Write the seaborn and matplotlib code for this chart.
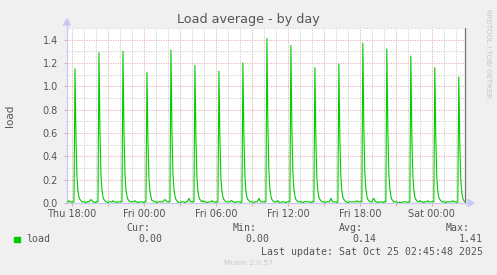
import matplotlib
matplotlib.use("Agg")
import matplotlib.pyplot as plt
import matplotlib.dates as mdates
from matplotlib.ticker import MultipleLocator, FuncFormatter, FixedLocator
from matplotlib.patches import Polygon, Rectangle
import pandas as pd
import seaborn as sns

# ---------------- data (5-minute samples, from Thu 17:35) ----------------
start_time = "2025-10-23 17:35"
end_time = "2025-10-25 02:46"
sample_step = "5min"

pre_peak = [0.01, 0.01, 0.02, 0.01, 0.01, 0.00, 0.01, 0.01]
cycle_rows = [
    [1.15, 0.55, 0.22, 0.10, 0.05, 0.03, 0.02, 0.01, 0.01, 0.01, 0.01, 0.00, 0.01, 0.01, 0.01, 0.02, 0.03, 0.02, 0.01, 0.01, 0.00, 0.01, 0.01, 0.01],
    [1.29, 0.60, 0.24, 0.11, 0.05, 0.03, 0.02, 0.01, 0.01, 0.00, 0.01, 0.01, 0.01, 0.01, 0.02, 0.01, 0.01, 0.01, 0.00, 0.01, 0.01, 0.01, 0.01, 0.01],
    [1.30, 0.61, 0.25, 0.11, 0.06, 0.03, 0.02, 0.01, 0.01, 0.01, 0.01, 0.01, 0.02, 0.01, 0.01, 0.00, 0.01, 0.01, 0.01, 0.01, 0.01, 0.00, 0.01, 0.01],
    [1.12, 0.52, 0.21, 0.10, 0.05, 0.02, 0.02, 0.01, 0.01, 0.01, 0.00, 0.01, 0.01, 0.01, 0.01, 0.01, 0.01, 0.02, 0.03, 0.02, 0.01, 0.01, 0.01, 0.01],
    [1.31, 0.62, 0.25, 0.12, 0.06, 0.03, 0.02, 0.01, 0.00, 0.00, 0.01, 0.01, 0.01, 0.01, 0.00, 0.01, 0.01, 0.02, 0.04, 0.02, 0.01, 0.01, 0.01, 0.01],
    [1.18, 0.56, 0.22, 0.10, 0.05, 0.03, 0.02, 0.01, 0.02, 0.01, 0.01, 0.01, 0.00, 0.01, 0.01, 0.01, 0.01, 0.02, 0.01, 0.01, 0.01, 0.00, 0.01, 0.01],
    [1.13, 0.53, 0.21, 0.10, 0.05, 0.03, 0.02, 0.01, 0.01, 0.01, 0.01, 0.01, 0.02, 0.02, 0.01, 0.01, 0.00, 0.01, 0.01, 0.01, 0.01, 0.01, 0.00, 0.01],
    [1.20, 0.57, 0.23, 0.10, 0.05, 0.03, 0.02, 0.01, 0.01, 0.01, 0.01, 0.00, 0.01, 0.01, 0.01, 0.02, 0.04, 0.02, 0.01, 0.01, 0.01, 0.01, 0.01, 0.01],
    [1.41, 0.66, 0.27, 0.12, 0.06, 0.03, 0.02, 0.01, 0.01, 0.01, 0.01, 0.02, 0.01, 0.00, 0.00, 0.01, 0.01, 0.01, 0.01, 0.00, 0.01, 0.01, 0.01, 0.01],
    [1.35, 0.63, 0.26, 0.12, 0.06, 0.03, 0.02, 0.01, 0.01, 0.01, 0.01, 0.01, 0.00, 0.01, 0.01, 0.015, 0.01, 0.01, 0.01, 0.01, 0.00, 0.01, 0.01, 0.01],
    [1.16, 0.55, 0.22, 0.10, 0.05, 0.03, 0.02, 0.01, 0.01, 0.01, 0.00, 0.01, 0.01, 0.01, 0.01, 0.02, 0.04, 0.02, 0.01, 0.01, 0.01, 0.01, 0.00, 0.01],
    [1.19, 0.56, 0.23, 0.10, 0.05, 0.03, 0.02, 0.01, 0.01, 0.00, 0.01, 0.01, 0.01, 0.01, 0.01, 0.01, 0.01, 0.01, 0.02, 0.01, 0.01, 0.01, 0.01, 0.01],
    [1.37, 0.64, 0.26, 0.12, 0.06, 0.03, 0.02, 0.01, 0.01, 0.01, 0.03, 0.04, 0.02, 0.01, 0.01, 0.00, 0.01, 0.01, 0.01, 0.01, 0.00, 0.01, 0.01, 0.01],
    [1.32, 0.62, 0.25, 0.12, 0.06, 0.03, 0.02, 0.01, 0.01, 0.01, 0.01, 0.00, 0.00, 0.01, 0.00, 0.00, 0.01, 0.01, 0.01, 0.01, 0.01, 0.00, 0.01, 0.01],
    [1.26, 0.59, 0.24, 0.11, 0.05, 0.03, 0.02, 0.01, 0.01, 0.02, 0.01, 0.01, 0.01, 0.00, 0.01, 0.01, 0.01, 0.02, 0.01, 0.01, 0.01, 0.01, 0.01, 0.01],
    [1.16, 0.55, 0.22, 0.10, 0.05, 0.03, 0.02, 0.01, 0.01, 0.01, 0.01, 0.00, 0.01, 0.01, 0.01, 0.01, 0.01, 0.01, 0.02, 0.01, 0.01, 0.01, 0.00, 0.01],
    [1.08, 0.50, 0.20, 0.09, 0.04, 0.02, 0.01],
]

series_name = "load"
stat_labels = ["Cur:", "Min:", "Avg:", "Max:"]
stat_values = ["0.00", "0.00", "0.14", "1.41"]
last_update = "Last update: Sat Oct 25 02:45:48 2025"
title = "Load average - by day"
ylabel = "load"
side_text = "RRDTOOL / TOBI OETIKER"
footer = "Munin 2.0.57"

load = list(pre_peak)
for row in cycle_rows:
    load.extend(row)
times = pd.date_range(start_time, periods=len(load), freq=sample_step)
df = pd.DataFrame({"time": times, "load": load})

# ---------------- figure ----------------
W, H = 497, 275
BG = "#F0F0F0"
TXT = "#555555"
GREEN = "#00CC00"
MAJ = "#E8A8A8"
MIN = "#CCCCCC"
AXC = "#C8C8F0"


def fx(x):
    return x / W


def fy(y):
    return 1 - y / H


fig = plt.figure(figsize=(W / 100, H / 100), dpi=100, facecolor=BG)
L, R, T, B = 67, 465, 28, 203
ax = fig.add_axes([fx(L), fy(B), (R - L) / W, (B - T) / H])
ax.set_facecolor("white")

sns.lineplot(data=df, x="time", y="load", ax=ax, color=GREEN, linewidth=0.8, zorder=3)

ax.set_xlim(pd.Timestamp(start_time), pd.Timestamp(end_time))
ax.set_ylim(0, 1.5)

# x ticks: major every 3h (labels every 6h), minor every hour
ax.xaxis.set_major_locator(mdates.HourLocator(byhour=range(0, 24, 3)))
ax.xaxis.set_minor_locator(mdates.HourLocator())


def xfmt(v, pos):
    d = mdates.num2date(v)
    if d.hour % 6 == 0:
        return d.strftime("%a %H:%M")
    return ""


ax.xaxis.set_major_formatter(FuncFormatter(xfmt))
ax.yaxis.set_major_locator(MultipleLocator(0.2))
ax.yaxis.set_minor_locator(MultipleLocator(0.1))
ax.yaxis.set_major_formatter(FuncFormatter(lambda v, p: f"{v:.1f}"))

dots = (0, (1, 1.3))
ax.grid(which="major", color=MAJ, linestyle=dots, linewidth=0.75)
ax.grid(which="minor", color=MIN, linestyle=dots, linewidth=0.75)
ax.set_axisbelow(True)

ax.tick_params(which="major", length=2, width=0.75, color=MAJ, labelsize=7,
               labelcolor=TXT, pad=2.5)
ax.tick_params(which="minor", length=0)
ax.tick_params(axis="y", pad=4.5)

ax.set_xlabel("")
ax.set_ylabel("")

for s in ["top"]:
    ax.spines[s].set_visible(False)
ax.spines["left"].set_color(AXC)
ax.spines["bottom"].set_color(AXC)
ax.spines["left"].set_linewidth(0.9)
ax.spines["bottom"].set_linewidth(0.9)
ax.spines["right"].set_color("#707070")
ax.spines["right"].set_linewidth(0.9)

# axis arrows
fig.add_artist(plt.Line2D([fx(L), fx(L)], [fy(T), fy(24)], color=AXC, lw=0.9))
fig.add_artist(Polygon([[fx(L), fy(19)], [fx(L - 3.5), fy(25)], [fx(L + 3.5), fy(25)]],
                       closed=True, color=AXC))
fig.add_artist(plt.Line2D([fx(R), fx(468)], [fy(B), fy(B)], color=AXC, lw=0.9))
fig.add_artist(Polygon([[fx(474), fy(B)], [fx(468), fy(B - 3.5)], [fx(468), fy(B + 3.5)]],
                       closed=True, color=AXC))

# titles
fig.text(fx(248), fy(19), title, ha="center", va="center", fontsize=9.2, color=TXT)
fig.text(fx(10), fy(115.5), ylabel, ha="center", va="center", rotation=90,
         fontsize=7.5, color=TXT)
fig.text(fx(488), fy(53), side_text, ha="center", va="center", rotation=270,
         fontsize=5, color="#C4C4C4")

# legend
mono = "DejaVu Sans Mono"
fig.add_artist(Rectangle((fx(14), fy(242)), 5.5 / W, 5.5 / H, color=GREEN))
fig.text(fx(26.5), fy(239.3), series_name, ha="left", va="center", family=mono,
         fontsize=7.1, color=TXT)
label_right = [150, 257, 363, 470]
value_right = [162.5, 269.5, 376, 482.5]
for lab, xr in zip(stat_labels, label_right):
    fig.text(fx(xr), fy(227.7), lab, ha="right", va="center", family=mono,
             fontsize=7.1, color=TXT)
for val, xr in zip(stat_values, value_right):
    fig.text(fx(xr), fy(239.3), val, ha="right", va="center", family=mono,
             fontsize=7.1, color=TXT)
fig.text(fx(482.7), fy(251.7), last_update, ha="right", va="center", family=mono,
         fontsize=7.1, color=TXT)
fig.text(fx(248), fy(263.3), footer, ha="center", va="center", fontsize=5.4,
         color="#C8C8C8")

fig.savefig("out.png", dpi=100, facecolor=BG)
